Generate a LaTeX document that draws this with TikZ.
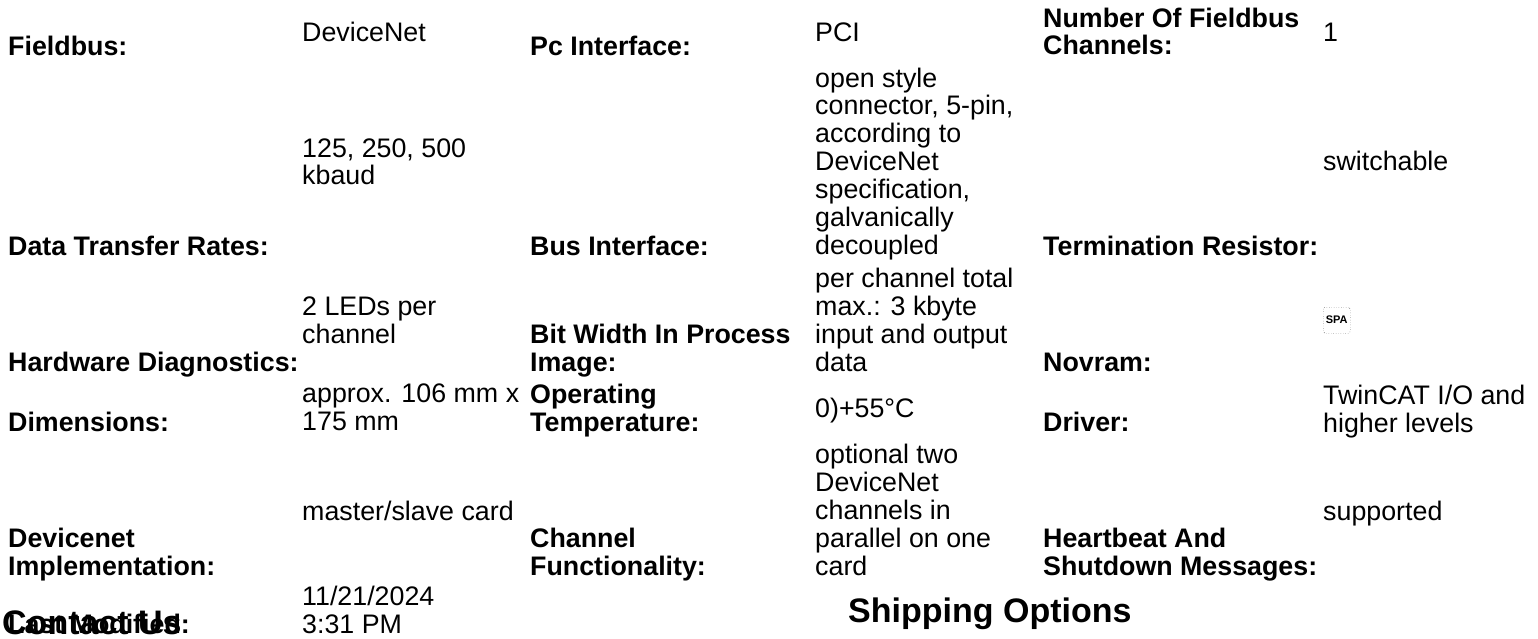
\documentclass[tikz,border=0pt]{standalone}
\usepackage{fontspec}
\setmainfont{Liberation Sans}

\begin{document}
\begin{tikzpicture}[x=1pt, y=-1pt,
  every node/.style={inner sep=0pt, anchor=base west, align=left,
    font=\fontsize{26.8}{27.8}\selectfont},
  lbl/.style={font=\fontsize{26.8}{27.8}\selectfont\bfseries},
  val/.style={},
  heading/.style={font=\fontsize{34}{36}\selectfont\bfseries}]
\useasboundingbox (0,0) rectangle (1538,639);

% first row
\node[lbl] (fieldbus)    at (8, 56)    {Fieldbus:};
\node[val] (fieldbusval) at (302, 42)  {DeviceNet};
\node[lbl] (pcif)        at (530, 56)  {Pc Interface:};
\node[val] (pcifval)     at (815, 42)  {PCI};
\node[lbl] (nchan)       at (1043, 55) {Number Of Fieldbus\\Channels:};
\node[val] (nchanval)    at (1323, 42) {1};

% second row
\node[lbl] (rates)    at (8, 255)    {Data Transfer Rates:};
\node[val] (ratesval) at (302, 185)  {125, 250, 500\\kbaud};
\node[lbl] (busif)    at (530, 255)  {Bus Interface:};
\node[val] (busifval) at (815, 254)  {open style\\connector, 5-pin,\\according to\\DeviceNet\\specification,\\galvanically\\decoupled};
\node[lbl] (term)     at (1043, 255) {Termination Resistor:};
\node[val] (termval)  at (1323, 171) {switchable};

% third row
\node[lbl] (diag)    at (8, 371)   {Hardware Diagnostics:};
\node[val] (diagval) at (302, 343) {2 LEDs per\\channel};
\node[lbl] (bitw)    at (530, 371) {Bit Width In Process\\Image:};
\node[val] (bitwval) at (815, 371) {per channel total\\max.: 3 kbyte\\input and output\\data};
\node[lbl] (novram)  at (1043, 371) {Novram:};
\node[draw, dotted, rounded corners=1.5pt, anchor=north west,
  minimum width=27pt, minimum height=26pt,
  font=\fontsize{11}{11}\selectfont\bfseries] (novramval) at (1323, 307) {SPA};

% fourth row
\node[lbl] (dims)      at (8, 431)    {Dimensions:};
\node[val] (dimsval)   at (302, 430)  {approx. 106 mm x\\175 mm};
\node[lbl] (optemp)    at (530, 431)  {Operating\\Temperature:};
\node[val] (optempval) at (815, 417)  {0)+55°C};
\node[lbl] (driver)    at (1043, 431) {Driver:};
\node[val] (driverval) at (1323, 432) {TwinCAT I/O and\\higher levels};

% fifth row
\node[lbl] (dnimpl)       at (8, 575)    {Devicenet\\Implementation:};
\node[val] (dnimplval)    at (302, 520)  {master/slave card};
\node[lbl] (chfunc)       at (530, 575)  {Channel\\Functionality:};
\node[val] (chfuncval)    at (815, 575)  {optional two\\DeviceNet\\channels in\\parallel on one\\card};
\node[lbl] (heartbeat)    at (1043, 575) {Heartbeat And\\Shutdown Messages:};
\node[val] (heartbeatval) at (1323, 520) {supported};

% footer
\node[lbl] (lastmod)    at (8, 633)   {Last Modified:};
\node[val] (lastmodval) at (302, 633) {11/21/2024\\3:31 PM};
\node[heading] (contact)  at (2, 634)   {Contact Us};
\node[heading] (shipping) at (848, 622) {Shipping Options};
\end{tikzpicture}
\end{document}
